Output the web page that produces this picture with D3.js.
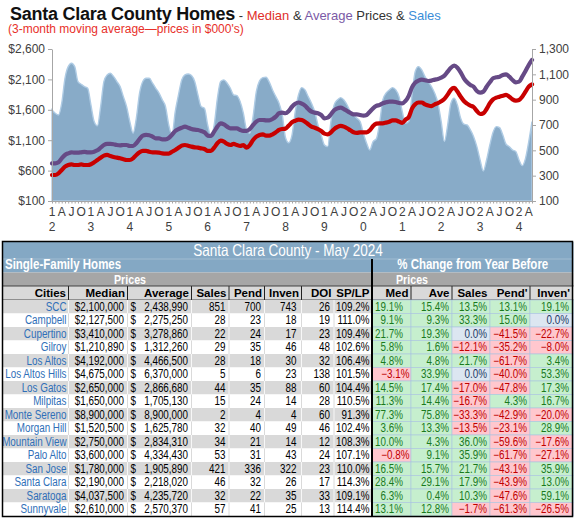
<!DOCTYPE html>
<html><head><meta charset="utf-8">
<script src="https://cdn.jsdelivr.net/npm/d3@7"></script>
<style>
html,body{margin:0;padding:0;background:#fff;}
svg{display:block;}
</style></head><body>
<svg id="chart" width="575" height="519"></svg>
<script>
// ---------- chart data (monthly, Jan 2012 - May 2024, 3-month moving averages) ----------
const startYear = 2012;
const sales = [
 819,793,779,872,1069,1161,1188,1161,1043,1022,1003,990,
 858,727,693,845,1043,1095,1109,1082,1043,1003,924,845,
 727,635,753,951,1043,1069,1069,1030,990,951,898,845,
 700,621,805,937,1056,1095,1103,1090,1043,937,845,832,
 700,616,700,911,1043,1056,1030,990,937,932,885,793,
 661,635,766,964,1048,1074,1077,1038,977,924,872,779,
 600,560,620,805,937,995,977,924,872,805,700,621,
 542,529,727,858,898,916,898,858,805,779,753,727,
 635,556,503,569,590,714,898,951,977,995,977,924,
 805,714,727,937,1122,1161,1135,1082,1043,1003,951,872,
 727,569,700,872,911,858,753,706,700,661,608,529,
 424,337,424,542,643,687,679,621,548,529,503,490,
 424,379,437,569,727
];
const averagePrice = [
 720,718,736,802,857,884,901,895,895,901,907,901,
 901,911,934,977,1021,1038,1038,1033,1021,1016,1021,1021,
 1005,1005,1049,1120,1175,1186,1181,1158,1131,1131,1115,1115,
 1135,1190,1252,1284,1306,1323,1306,1284,1273,1268,1252,1230,
 1175,1169,1241,1323,1378,1362,1323,1296,1296,1296,1268,1252,
 1252,1284,1350,1405,1432,1432,1427,1427,1449,1487,1543,1553,
 1543,1580,1650,1700,1720,1701,1668,1613,1569,1553,1543,1515,
 1460,1471,1526,1592,1624,1635,1613,1580,1548,1526,1526,1515,
 1504,1515,1569,1624,1663,1679,1707,1723,1734,1734,1728,1712,
 1707,1745,1830,1970,2047,2080,2096,2085,2074,2080,2096,2107,
 2129,2162,2227,2293,2326,2293,2217,2118,2052,2008,1980,1910,
 1882,1899,1980,2052,2118,2134,2145,2173,2184,2145,2090,2052,
 2063,2145,2239,2337,2420
];
const medianPrice = [
 528,528,555,610,665,692,704,692,692,704,692,692,
 704,736,774,813,846,857,840,824,813,802,786,774,
 774,802,857,901,923,923,911,901,901,895,884,879,
 880,910,939,977,1010,1021,1010,994,983,977,966,955,
 923,923,977,1049,1092,1076,1038,1021,1038,1021,1005,1021,
 977,1021,1103,1158,1186,1197,1175,1175,1197,1230,1268,1284,
 1290,1340,1395,1420,1440,1432,1405,1362,1323,1306,1284,1252,
 1208,1197,1230,1284,1317,1334,1323,1296,1263,1230,1219,1230,
 1230,1230,1263,1334,1372,1378,1378,1389,1405,1427,1427,1405,
 1383,1438,1480,1620,1690,1720,1720,1690,1670,1660,1690,1710,
 1740,1780,1850,1930,1960,1900,1816,1745,1701,1668,1646,1580,
 1531,1543,1613,1707,1772,1800,1816,1832,1844,1816,1772,1750,
 1761,1816,1899,1980,2019
];
const leftTicks = [100,600,1100,1600,2100,2600];
const rightTicks = [100,300,500,700,900,1100,1300];
const yearLabels = ["12","13","14","15","16","17","18","19","20","21","22","23","24"];
const quarterLetters = ["A","J","O"];

// ---------- table data ----------
const tableTitle = "Santa Clara County - May 2024";
const cities = ["SCC","Campbell","Cupertino","Gilroy","Los Altos","Los Altos Hills","Los Gatos","Milpitas","Monte Sereno","Morgan Hill","Mountain View","Palo Alto","San Jose","Santa Clara","Saratoga","Sunnyvale"];
const medians = [2100000,2127500,3410000,1210890,4192000,4675000,2650000,1650000,8900000,1520500,2750000,3600000,1780000,2190000,4037500,2610000];
const averages = [2438990,2275250,3278860,1312260,4466500,6370000,2866680,1705130,8900000,1625780,2834310,4334430,1905890,2218020,4235720,2570370];
const salesCounts = [851,28,22,29,28,5,44,15,2,32,34,53,421,46,32,57];
const pendings = [700,23,24,35,18,6,35,24,4,40,21,31,336,32,22,41];
const inventory = [743,18,17,46,30,23,88,14,4,49,14,43,322,26,35,25];
const daysOfInventory = [26,19,23,48,32,138,60,28,60,46,12,24,23,17,33,13];
const spLp = [109.2,111.0,109.4,102.6,106.4,101.5,104.4,110.5,91.3,102.4,108.3,107.1,110.0,114.3,109.1,114.4];
const chgMed = [19.1,9.1,21.7,5.8,4.8,-3.1,14.5,11.3,77.3,3.6,10.0,-0.8,16.5,28.4,6.3,13.1];
const chgAve = [15.4,9.3,19.3,1.6,4.8,33.9,17.4,14.4,75.8,13.3,4.3,9.1,15.7,29.1,0.4,12.8];
const chgSales = [13.5,33.3,0.0,-12.1,21.7,0.0,-17.0,-16.7,-33.3,-13.5,36.0,35.9,21.7,17.9,10.3,-1.7];
const chgPend = [13.1,15.0,-41.5,-35.2,-61.7,-40.0,-47.8,4.3,-42.9,-23.1,-59.6,-61.7,-43.1,-43.9,-47.6,-61.3];
const chgInven = [19.1,0.0,-22.7,-8.0,3.4,53.3,17.3,16.7,-20.0,28.9,-17.6,-27.1,35.9,13.0,59.1,-26.5];
const leftHeaders = ["Cities","Median","Average","Sales","Pend","Inven","DOI","SP/LP"];
const rightHeaders = ["Med","Ave","Sales","Pend'","Inven'"];

// ---------- fonts ----------
function hasFont(name){
  const c=document.createElement("canvas").getContext("2d");
  const s="abcdefghijklmnopqrstuvwxyz0123456789$,%ABCDEFG";
  c.font="32px monospace"; const a=c.measureText(s).width;
  c.font='32px "'+name+'", monospace'; const b=c.measureText(s).width;
  return Math.abs(a-b)>0.5;
}
const HAS_NARROW = hasFont("Liberation Sans Narrow");
const SANS = "'Liberation Sans', Arial, sans-serif";
const NARROW = HAS_NARROW ? "'Liberation Sans Narrow', 'Arial Narrow', sans-serif" : SANS;

const svg = d3.select("#chart");

function put(g, x, y, s, o){
  o = o || {};
  const anchor = o.anchor || "end";
  const t = g.append("text").attr("x",x).attr("y",y).text(s)
    .attr("text-anchor", anchor)
    .style("font-family", o.narrow ? NARROW : SANS)
    .style("font-size", (o.size||12)+"px")
    .style("font-weight", o.bold ? "bold" : "normal")
    .attr("fill", o.fill||"#000");
  if (o.pre) t.attr("xml:space","preserve").style("white-space","pre");
  if (o.narrow && !HAS_NARROW){
    const w = t.node().getComputedTextLength();
    const nw = w*0.82;
    const shift = anchor === "end" ? nw : anchor === "middle" ? nw/2 : 0;
    t.attr("text-anchor","start").attr("x", x - shift)
     .attr("textLength", nw).attr("lengthAdjust","spacingAndGlyphs");
  }
  return t;
}

// ---------- title ----------
const title = svg.append("text").attr("x",10).attr("y",19.5).style("font-family",SANS);
title.append("tspan").text("Santa Clara County Homes").style("font-weight","bold").style("font-size","18px").style("letter-spacing","-0.25px").attr("fill","#111");
const tParts = [[" - ","#333"],["Median","#e0302a"],[" & ","#333"],["Average","#7b5aa6"],[" Prices & ","#333"],["Sales","#3a8dd8"]];
tParts.forEach(p => title.append("tspan").text(p[0]).style("font-size","13px").attr("fill",p[1]).attr("xml:space","preserve"));
put(svg, 8, 33, "(3-month moving average\u2014prices in $000's)", {anchor:"start", size:12, fill:"#e8302a"});

// ---------- chart ----------
const n = sales.length;
const x = d3.scaleLinear().domain([0, n-1]).range([52, 532]);
const yL = d3.scaleLinear().domain([100, 2600]).range([201, 49]);
const yR = d3.scaleLinear().domain([100, 1300]).range([201, 49]);
const idx = d3.range(n);

const plot = svg.append("g");
plot.append("path").datum(idx)
  .attr("d", d3.area().x(i=>x(i)).y0(yR(100)).y1(i=>yR(sales[i])).curve(d3.curveMonotoneX))
  .attr("fill","#88abc8").attr("stroke","#aecbe4").attr("stroke-width",1.4);
plot.append("path").datum(idx)
  .attr("d", d3.line().x(i=>x(i)).y(i=>yL(averagePrice[i])).curve(d3.curveMonotoneX))
  .attr("fill","none").attr("stroke","#664a86").attr("stroke-width",4.2).attr("stroke-linejoin","round").attr("stroke-linecap","round");
plot.append("path").datum(idx)
  .attr("d", d3.line().x(i=>x(i)).y(i=>yL(medianPrice[i])).curve(d3.curveMonotoneX))
  .attr("fill","none").attr("stroke","#c80000").attr("stroke-width",4.2).attr("stroke-linejoin","round").attr("stroke-linecap","round");

function styleAxis(g){
  g.select(".domain").attr("stroke","#a6a6a6");
  g.selectAll(".tick line").attr("stroke","#a6a6a6");
  g.selectAll(".tick text").style("font-family",SANS).style("font-size","12px").attr("fill","#404040");
}
svg.append("g").attr("transform","translate(52,0)")
  .call(d3.axisLeft(yL).tickValues(leftTicks).tickFormat(d=>"$"+d3.format(",")(d)).tickSize(4).tickPadding(3).tickSizeOuter(0))
  .call(styleAxis);
svg.append("g").attr("transform","translate(532,0)")
  .call(d3.axisRight(yR).tickValues(rightTicks).tickFormat(d3.format(",")).tickSize(4).tickPadding(3).tickSizeOuter(0))
  .call(styleAxis);
svg.append("g").attr("transform","translate(0,201)")
  .call(d3.axisBottom(x).tickValues(idx).tickFormat("").tickSize(2.5).tickSizeOuter(0))
  .call(styleAxis);

const xl = svg.append("g").style("font-family",SANS).style("font-size","12px").attr("fill","#404040");
idx.filter(i => i % 3 === 0).forEach(i => {
  const m = (startYear*12 + i) % 12;
  const yr = yearLabels[Math.floor(i/12)];
  const top = m === 0 ? yr[0] : quarterLetters[m/3 - 1];
  xl.append("text").attr("x", x(i)).attr("y", 216).attr("text-anchor","middle").text(top);
  if (m === 0) xl.append("text").attr("x", x(i)).attr("y", 231).attr("text-anchor","middle").text(yr[1]);
});

// ---------- table ----------
const tb = svg.append("g");
const L = 2.5, R = 573.5, DIV = 372;
const titleTop = 242, sfTop = 259, pricesTop = 272.5, headTop = 286, headBottom = 300;
const rows = d3.scaleBand().domain(cities).range([300, 516]);
const rh = rows.bandwidth();
const leftEdges = [L, 68.5, 127.5, 191.5, 229, 264.5, 301.5, 334, DIV];
const rightEdges = [DIV, 411, 452, 490, 530, R];
const blue = "#84a8c4", gray = "#a6a6a6", light = "#d9d9d9";

tb.append("rect").attr("x",L).attr("y",titleTop).attr("width",R-L).attr("height",sfTop-titleTop).attr("fill",blue);
put(tb, (L+R)/2, 255.5, tableTitle, {anchor:"middle", narrow:true, size:16.5, fill:"#fff"});
tb.append("rect").attr("x",L).attr("y",sfTop).attr("width",R-L).attr("height",pricesTop-sfTop).attr("fill",blue);
tb.append("line").attr("x1",L).attr("x2",R).attr("y1",sfTop).attr("y2",sfTop).attr("stroke","#a9c2d6").attr("stroke-width",0.8);
put(tb, 5, 269, "Single-Family Homes", {anchor:"start", narrow:true, bold:true, size:14, fill:"#fff"});
put(tb, (DIV+R)/2, 269, "% Change from Year Before", {anchor:"middle", narrow:true, bold:true, size:14, fill:"#fff"});
tb.append("rect").attr("x",L).attr("y",pricesTop).attr("width",R-L).attr("height",headTop-pricesTop).attr("fill",gray);
put(tb, (leftEdges[1]+leftEdges[3])/2, 284, "Prices", {anchor:"middle", narrow:true, bold:true, size:13, fill:"#fff"});
put(tb, (rightEdges[0]+rightEdges[2])/2, 284, "Prices", {anchor:"middle", narrow:true, bold:true, size:13, fill:"#fff"});

// header row
tb.append("rect").attr("x",L).attr("y",headTop).attr("width",R-L).attr("height",headBottom-headTop).attr("fill",light);
leftHeaders.forEach((h,k) => put(tb, leftEdges[k+1]-2.5, 297, h, {bold:true, size:11.5}));
rightHeaders.forEach((h,k) => put(tb, (k === 4 ? R - 3.5 : rightEdges[k+1]-2.5), 297, h, {bold:true, size:11.5}));
[leftEdges[1],leftEdges[2],leftEdges[3],leftEdges[4],leftEdges[5],leftEdges[6],rightEdges[1],rightEdges[2],rightEdges[4]].forEach(e =>
  tb.append("line").attr("x1",e).attr("x2",e).attr("y1",headTop).attr("y2",headBottom).attr("stroke","#222").attr("stroke-width",1));
[headTop, headBottom].forEach(yy => tb.append("line").attr("x1",L).attr("x2",R).attr("y1",yy).attr("y2",yy).attr("stroke","#333").attr("stroke-width",0.9));

// data rows
const fmtInt = d3.format(",");
const fmtPct = d3.format(".1f");
const pctCols = [chgMed, chgAve, chgSales, chgPend, chgInven];
const cellLayer = tb.append("g"), textLayer = tb.append("g");
cities.forEach((c,i) => {
  const y0 = rows(c), base = y0 + 10.8;
  const bg = i % 2 === 0 ? light : "#ffffff";
  cellLayer.append("rect").attr("x",L).attr("y",y0).attr("width",DIV-L).attr("height",rh).attr("fill",bg);
  leftEdges.slice(1,8).forEach(e => cellLayer.append("line").attr("x1",e).attr("x2",e).attr("y1",y0).attr("y2",y0+rh)
    .attr("stroke", i%2===0 ? "#ffffff" : "#d0d0d0").attr("stroke-width",0.8));
  put(textLayer, 66.5, base, c, {narrow:true, fill:"#2f6fb8"});
  put(textLayer, 124, base, "$" + fmtInt(medians[i]), {narrow:true});
  // accounting-style average: "$" at the left of the cell, number right-aligned
  put(textLayer, 188, base, "$   " + fmtInt(averages[i]), {narrow:true, pre:true});
  put(textLayer, 225.5, base, salesCounts[i], {narrow:true});
  put(textLayer, 261, base, pendings[i], {narrow:true});
  put(textLayer, 296.5, base, inventory[i], {narrow:true});
  put(textLayer, 330, base, daysOfInventory[i], {narrow:true});
  put(textLayer, 369.5, base, fmtPct(spLp[i]) + "%", {narrow:true});
  pctCols.forEach((arr,k) => {
    const v = arr[i];
    const fill = v > 0 ? "#c6efce" : v < 0 ? "#ffc7ce" : "#dce6f1";
    const col = v > 0 ? "#1a7a1e" : v < 0 ? "#c00000" : "#203864";
    cellLayer.append("rect").attr("x",rightEdges[k]).attr("y",y0).attr("width",rightEdges[k+1]-rightEdges[k]).attr("height",rh)
      .attr("fill",fill).attr("stroke","#a9c4e0").attr("stroke-width",0.6);
    let tx = rightEdges[k+1] - 3;
    if (k === 0) tx = v < 0 ? rightEdges[1] - 1.5 : rightEdges[1] - 8;
    if (k === 4) tx = R - 4.5;
    put(textLayer, tx, base, fmtPct(v) + "%", {narrow:true, fill:col});
  });
});

tb.append("line").attr("x1",DIV).attr("x2",DIV).attr("y1",sfTop).attr("y2",516.5).attr("stroke","#000").attr("stroke-width",2);
tb.append("rect").attr("x",L).attr("y",241.5).attr("width",R-L-1).attr("height",275).attr("fill","none").attr("stroke","#000").attr("stroke-width",1.5);
</script>
</body></html>
